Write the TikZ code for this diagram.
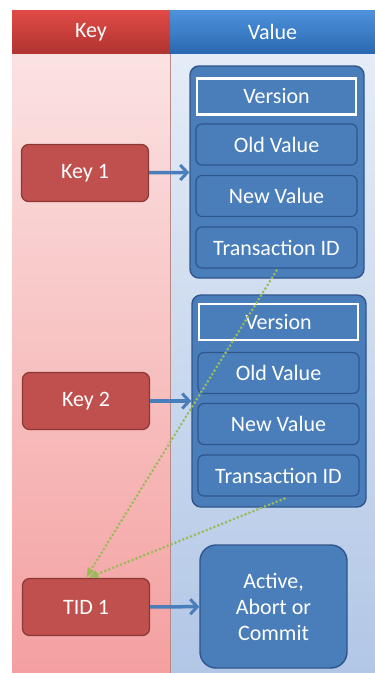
\documentclass[tikz,border=0pt]{standalone}
\usepackage{fontspec}
\setmainfont{Carlito}
\usetikzlibrary{arrows.meta, positioning}
\definecolor{keyred}{HTML}{C0504D}
\definecolor{keyredline}{HTML}{8C3836}
\definecolor{valblue}{HTML}{4A7EBB}
\definecolor{valblueline}{HTML}{2F558A}
\definecolor{tidgreen}{HTML}{9BBB59}
\definecolor{keycoltop}{HTML}{FBE2E2}
\definecolor{keycolbot}{HTML}{F4A0A0}
\definecolor{valcoltop}{HTML}{E4ECF7}
\definecolor{valcolbot}{HTML}{B2C7E6}
\definecolor{keyheadtop}{HTML}{E04A46}
\definecolor{keyheadbot}{HTML}{B03430}
\definecolor{valheadtop}{HTML}{4D92DB}
\definecolor{valheadbot}{HTML}{2A69B2}

\begin{document}
\begin{tikzpicture}[
    x=1pt, y=-1pt,
    every node/.style={font=\fontsize{22}{26}\selectfont, text=white, align=center, inner sep=0pt},
    header/.style={minimum height=43pt},
    keybox/.style={draw=keyredline, line width=1.2pt, fill=keyred, rounded corners=7pt, minimum width=127pt, minimum height=57pt},
    group/.style={draw=valblueline, line width=1.4pt, fill=valblue, rounded corners=9pt, minimum width=174pt, minimum height=212pt},
    field/.style={draw=valblueline, line width=1.2pt, fill=valblue, rounded corners=6pt, minimum width=161pt, minimum height=41pt},
    version/.style={draw=white, line width=2.5pt, fill=valblue, minimum width=159pt, minimum height=36pt},
    link/.style={-{Straight Barb[length=7pt,width=15pt,line width=3pt]}, line width=3.5pt, valblue},
    tidlink/.style={-{Latex[length=10pt,width=9pt]}, line width=3pt, tidgreen, line cap=round, dash pattern=on 0pt off 4.2pt},
]
\useasboundingbox (0,0) rectangle (375,673);

% columns
\shade[top color=keycoltop, bottom color=keycolbot] (12,54) rectangle (170,673);
\shade[top color=valcoltop, bottom color=valcolbot] (170,54) rectangle (375,673);
\draw[keyredline!60, line width=0.8pt] (170,54) -- (170,673);

% headers
\node[header, minimum width=158pt, top color=keyheadtop, bottom color=keyheadbot] (keyhead) at (91,32) {Key};
\node[header, minimum width=205pt, top color=valheadtop, bottom color=valheadbot] (valhead) at (272.5,32) {Value};

% keys
\node[keybox] (key1) at (85,173) {Key 1};
\node[keybox] (key2) at (86,401) {Key 2};
\node[keybox] (tid1) at (86,607) {TID 1};

% first value
\node[group] (val1) at (277,172) {};
\node[version] (ver1) at (276.5,96.5) {Version};
\node[field] (old1) at (276.5,144.5) {Old Value};
\node[field] (new1) at (276.5,196) {New Value};
\node[field] (txid1) at (276.5,247.5) {Transaction ID};

% second value
\node[group] (val2) at (279,401) {};
\node[version] (ver2) at (278.5,322) {Version};
\node[field] (old2) at (278.5,373) {Old Value};
\node[field] (new2) at (278.5,424) {New Value};
\node[field] (txid2) at (278.5,475.5) {Transaction ID};

% transaction state
\node[draw=valblueline, line width=1.4pt, fill=valblue, rounded corners=16pt, minimum width=147pt, minimum height=123pt] (state) at (273.5,606.5) {Active,\\Abort or\\Commit};

% links
\draw[link] (key1) -- (val1);
\draw[link] (key2) -- (val2);
\draw[link] (tid1) -- (state);
\draw[tidlink] (txid1.south) ++(0,2) -- (tid1.north);
\draw[tidlink] (txid2.south) ++(6,2) -- ([xshift=2pt]tid1.north);

\end{tikzpicture}
\end{document}
